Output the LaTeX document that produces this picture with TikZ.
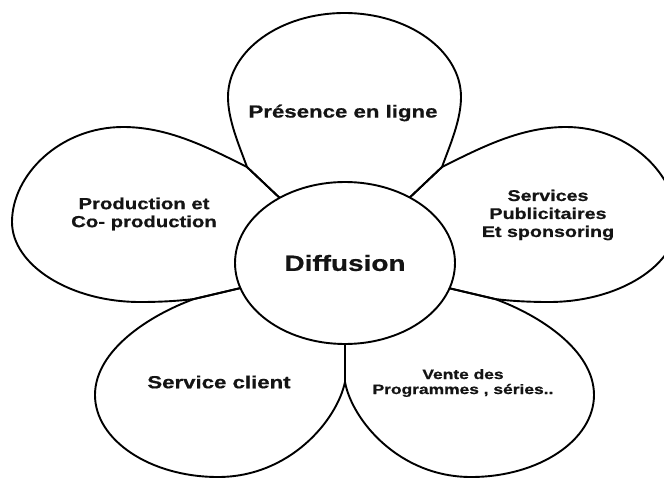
\documentclass[tikz,border=0pt]{standalone}
\usepackage{fontspec}
\setmainfont{Liberation Sans}
\newfontfamily\heavy{Liberation Sans Bold}[FakeBold=0.6]
\usetikzlibrary{shapes.geometric}
\begin{document}
\begin{tikzpicture}[x=1pt,y=-1pt,
  petal/.style={draw=black,line width=1.9pt,line join=round},
  lab/.style={align=center, xscale=1.27, inner sep=0pt, text=black!92}]
\useasboundingbox (0,0) rectangle (664,479);
% junctions between petals
\coordinate (jtl) at (247,167);
\coordinate (jtr) at (442,167);
\coordinate (jlb) at (194,299);
\coordinate (jrb) at (495,299);
\coordinate (jb)  at (345,382);
% points just inside the centre ellipse
\coordinate (ptl) at (284,202);
\coordinate (ptr) at (405,202);
\coordinate (plb) at (245,287);
\coordinate (prb) at (444,287);
\coordinate (pb)  at (345,338);
% top petal
\draw[petal] (ptl) -- (jtl) .. controls (239,145) and (228,120) .. (228,97)
  .. controls (228,51) and (280,13) .. (344.5,13)
  .. controls (409,13) and (461,51) .. (461,97)
  .. controls (461,120) and (450,145) .. (jtr) -- (ptr);
% left petal
\draw[petal] (ptl) -- (jtl) .. controls (207,147) and (168,127) .. (123,127)
  .. controls (60,127) and (12,175) .. (12,222)
  .. controls (12,265) and (70,302) .. (140,302)
  .. controls (160,302) and (178,301) .. (jlb) -- (plb);
% right petal
\draw[petal] (ptr) -- (jtr) .. controls (482,147) and (521,127) .. (566,127)
  .. controls (629,127) and (677,175) .. (677,222)
  .. controls (677,265) and (619,302) .. (549,302)
  .. controls (529,302) and (511,301) .. (jrb) -- (prb);
% bottom-left petal
\draw[petal] (pb) -- (jb) .. controls (337,420) and (290,477) .. (218,477)
  .. controls (150,477) and (95,440) .. (95,395)
  .. controls (95,350) and (150,315) .. (jlb) -- (plb);
% bottom-right petal
\draw[petal] (pb) -- (jb) .. controls (352,420) and (399,477) .. (471,477)
  .. controls (539,477) and (594,440) .. (594,395)
  .. controls (594,350) and (539,315) .. (jrb) -- (prb);
% centre
\node[ellipse, draw=black, line width=1.9pt, fill=white, xscale=1.27,
  minimum width=173.2pt, minimum height=162pt, inner sep=0pt,
  font=\heavy\fontsize{22}{26}\selectfont, text=black!92] (c) at (345,263) {Diffusion};
% labels
\node[lab, font=\heavy\fontsize{17.5}{21}\selectfont] (t1) at (343,113) {Présence en ligne};
\node[lab, font=\heavy\fontsize{16}{18}\selectfont] (t2) at (144,214) {Production et\\Co- production};
\node[lab, font=\heavy\fontsize{15.5}{18}\selectfont] (t3) at (548,215) {Services\\Publicitaires\\Et sponsoring};
\node[lab, font=\heavy\fontsize{17.5}{20}\selectfont] (t4) at (219,382) {Service client};
\node[lab, font=\heavy\fontsize{13.7}{15}\selectfont] (t5) at (463,383) {Vente des\\Programmes , séries..};
\end{tikzpicture}
\end{document}
